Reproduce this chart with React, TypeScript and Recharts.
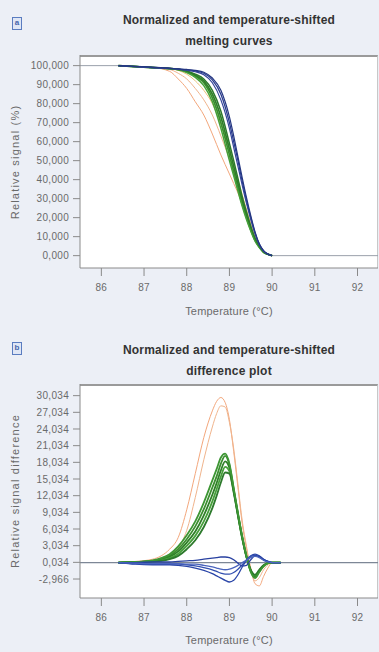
import React from 'react';
import { LineChart, Line, XAxis, YAxis, ReferenceLine } from 'recharts';

// temperature grid for the coloured curves (°C)
const topTemps = [86.4, 86.8, 87.2, 87.6, 87.8, 88.0, 88.2, 88.4, 88.6, 88.8, 89.0, 89.1, 89.2, 89.3, 89.4, 89.5, 89.6, 89.7, 89.8, 89.9, 90.0];

// a) normalized melting curves (%)
const meltOrange1 = [100, 99.5, 99, 97, 93, 88, 81, 74, 64, 53, 43, 38, 33, 27, 21, 15, 9, 4.5, 2, 0.7, 0];
const meltOrange2 = [100, 99.5, 99, 98, 96, 93, 88, 82, 74, 63, 51, 45, 38, 31, 24, 17, 10, 5, 2, 0.7, 0];
const meltOrange3 = [100, 99.5, 99, 98.5, 97.5, 95.5, 92, 87, 80, 69, 56, 48, 40, 32, 24, 16, 10, 5, 2, 0.8, 0];
const meltGreen1 = [100, 99.5, 99, 98.5, 98, 96.8, 94.5, 91, 83, 70, 53, 44, 35.5, 27, 20, 13.5, 8, 4.5, 1.8, 0.7, 0];
const meltGreen2 = [100, 99.5, 99, 98.5, 98, 97, 95, 92, 85, 73, 56, 47, 38, 29, 21.5, 14.5, 8.7, 4.8, 1.9, 0.7, 0];
const meltGreen3 = [100, 99.5, 99, 98.4, 97.8, 96.4, 93.8, 89.5, 81, 67, 50, 42, 34, 26, 19, 13, 7.8, 4.3, 1.8, 0.7, 0];
const meltGreen4 = [100, 99.5, 99, 98.5, 98.1, 97.2, 95.5, 93, 87, 76, 59, 50, 40.5, 31, 23, 15.5, 9.2, 5, 2, 0.8, 0];
const meltBlue1 = [100, 99.5, 99, 98.5, 98.2, 97.8, 97.2, 96, 92.5, 85, 70, 60, 50, 39, 29, 20, 12, 6, 2.5, 0.8, 0];
const meltBlue2 = [100, 99.5, 99, 98.5, 98.1, 97.6, 96.8, 95.2, 91, 82, 67, 57, 47, 37, 27.5, 19, 11.5, 5.8, 2.4, 0.8, 0];
const meltBlue3 = [100, 99.6, 99.2, 98.7, 98.3, 98, 97.5, 96.5, 93.5, 87, 73, 63, 52, 41, 30.5, 21, 12.5, 6.2, 2.6, 0.8, 0];

// grey plateau lines before and after the curves
const plateauTemps = [85.5, 86.4, 88.0, 90.0, 92.48];
const plateauValues = [100, 100, null, 0, 0];

const meltTicks = [0, 10, 20, 30, 40, 50, 60, 70, 80, 90, 100];

// b) difference plot
const diffTemps = [86.4, 86.8, 87.2, 87.4, 87.6, 87.8, 88.0, 88.2, 88.4, 88.6, 88.7, 88.8, 88.9, 89.0, 89.1, 89.2, 89.3, 89.4, 89.5, 89.6, 89.7, 89.8, 89.9, 90.0, 90.2];
const diffOrange1 = [0, 0.2, 0.6, 1.2, 2.4, 4.5, 9.5, 16, 22.5, 27.3, 29, 29.7, 28.8, 25.7, 20, 13.5, 7, 2.5, -1, -3.8, -4.2, -2.5, -1, 0, 0];
const diffOrange2 = [0, 0.1, 0.4, 0.8, 1.5, 2.6, 5.8, 11.7, 18.5, 24.4, 26.8, 28.2, 28, 25.2, 20.5, 14, 7.5, 2.9, -1.2, -3.3, -2.7, -1.3, -0.4, 0, 0];
const diffGreen1 = [0, 0.1, 0.3, 0.6, 1.2, 2.4, 4.2, 6.5, 9.6, 13.5, 15.5, 17.8, 19.2, 17.5, 13.2, 8.8, 4.6, 1.1, -1.6, -2.6, -1.6, -0.6, -0.1, 0, 0];
const diffGreen2 = [0, 0.1, 0.2, 0.5, 1.0, 2.0, 3.6, 5.6, 8.5, 12.2, 14.3, 16.6, 18.2, 17.0, 13.0, 8.6, 4.5, 1.0, -1.5, -2.4, -1.5, -0.6, -0.1, 0, 0];
const diffGreen3 = [0, 0.1, 0.2, 0.4, 0.8, 1.6, 3.0, 4.8, 7.4, 11.0, 13.2, 15.5, 17.2, 16.4, 12.8, 8.5, 4.4, 1.0, -1.4, -2.3, -1.4, -0.5, -0.1, 0, 0];
const diffGreen4 = [0, 0.1, 0.2, 0.3, 0.6, 1.2, 2.4, 4.0, 6.4, 9.8, 12.0, 14.4, 16.2, 16.0, 12.6, 8.4, 4.3, 1.0, -1.3, -2.2, -1.3, -0.5, -0.1, 0, 0];
const diffGreen5 = [0, 0.1, 0.4, 0.8, 1.5, 2.9, 4.9, 7.4, 10.8, 14.8, 16.8, 18.9, 19.6, 17.8, 13.4, 8.9, 4.7, 1.2, -1.7, -2.8, -1.7, -0.7, -0.1, 0, 0];
const diffBlue1 = [0, -0.3, -0.4, -0.4, -0.4, -0.5, -0.7, -1.0, -1.4, -2.0, -2.4, -2.8, -3.2, -3.5, -3.2, -2.2, -0.8, 0.4, 1.2, 1.5, 1.2, 0.6, 0.2, 0, 0];
const diffBlue2 = [0, -0.2, -0.3, -0.3, -0.3, -0.3, -0.4, -0.6, -0.9, -1.3, -1.6, -1.9, -2.1, -2.1, -1.8, -1.2, -0.4, 0.5, 1.1, 1.3, 1.0, 0.5, 0.2, 0, 0];
const diffBlue3 = [0, 0, 0.1, 0.1, 0.1, 0.2, 0.3, 0.4, 0.6, 0.8, 0.9, 1.0, 1.0, 0.9, 0.5, -0.1, -0.6, -0.5, 0.5, 1.2, 1.1, 0.6, 0.2, 0, 0];
const diffBlue4 = [0, -0.1, -0.2, -0.2, -0.2, -0.2, -0.3, -0.3, -0.5, -0.8, -1.0, -1.2, -1.3, -1.2, -0.9, -0.5, 0, 0.4, 0.9, 1.1, 0.9, 0.4, 0.1, 0, 0];

const diffTicks = [-2.966, 0.034, 3.034, 6.034, 9.034, 12.034, 15.034, 18.034, 21.034, 24.034, 27.034, 30.034];
const tempTicks = [86, 87, 88, 89, 90, 91, 92];

const meltSeries = [
  { key: 'o1', values: meltOrange1, color: '#f3a77c', width: 1 },
  { key: 'o2', values: meltOrange2, color: '#f0b48c', width: 1 },
  { key: 'o3', values: meltOrange3, color: '#e9c27a', width: 1 },
  { key: 'g1', values: meltGreen1, color: '#3b8f2f', width: 1.7 },
  { key: 'g2', values: meltGreen2, color: '#2f7f28', width: 1.7 },
  { key: 'g3', values: meltGreen3, color: '#46a03a', width: 1.5 },
  { key: 'g4', values: meltGreen4, color: '#2d7a2c', width: 1.5 },
  { key: 'b1', values: meltBlue1, color: '#2a3c8f', width: 1.3 },
  { key: 'b2', values: meltBlue2, color: '#33459a', width: 1.2 },
  { key: 'b3', values: meltBlue3, color: '#243681', width: 1.2 },
];

const diffSeries = [
  { key: 'o1', values: diffOrange1, color: '#f3a77c', width: 1 },
  { key: 'o2', values: diffOrange2, color: '#f0b48c', width: 1 },
  { key: 'g1', values: diffGreen1, color: '#3b8f2f', width: 1.8 },
  { key: 'g2', values: diffGreen2, color: '#2f7f28', width: 1.8 },
  { key: 'g3', values: diffGreen3, color: '#46a03a', width: 1.8 },
  { key: 'g4', values: diffGreen4, color: '#2d7a2c', width: 1.8 },
  { key: 'g5', values: diffGreen5, color: '#3d9634', width: 1.8 },
  { key: 'b1', values: diffBlue1, color: '#2a45a8', width: 1.3 },
  { key: 'b2', values: diffBlue2, color: '#3350b0', width: 1.3 },
  { key: 'b3', values: diffBlue3, color: '#2840a0', width: 1.3 },
  { key: 'b4', values: diffBlue4, color: '#4a64bd', width: 1.3 },
];

const meltRows = topTemps.map((t, i) => {
  const row: Record<string, number> = { t };
  meltSeries.forEach((s) => (row[s.key] = s.values[i]));
  return row;
});
const plateauRows = plateauTemps.map((t, i) => ({ t, v: plateauValues[i] }));
const diffRows = diffTemps.map((t, i) => {
  const row: Record<string, number> = { t };
  diffSeries.forEach((s) => (row[s.key] = s.values[i]));
  return row;
});

const FONT = '"Liberation Sans", Arial, sans-serif';
const fmt = (v: number) => v.toFixed(3).replace('.', ',');
const tickStyle = { fontSize: 10, fill: '#6a6a6a', fontFamily: FONT, letterSpacing: 0.3 };
const axisLine = { stroke: '#8a8a8a' };

const Title = ({ top, lines }: { top: number; lines: string[] }) => (
  <div
    style={{
      position: 'absolute', left: 80, width: 298, top, textAlign: 'center',
      fontFamily: FONT, fontWeight: 'bold', fontSize: 12, lineHeight: '21px', color: '#333', letterSpacing: 0.2,
    }}
  >
    {lines.map((l) => <div key={l}>{l}</div>)}
  </div>
);

const PanelTag = ({ top, letter }: { top: number; letter: string }) => (
  <div
    style={{
      position: 'absolute', left: 12, top, width: 10, height: 13, boxSizing: 'border-box',
      border: '1.5px solid #5a7cc0', background: '#dfe6f5', color: '#4565ab',
      fontFamily: FONT, fontSize: 8, lineHeight: '10px', textAlign: 'center', fontWeight: 'bold',
    }}
  >
    {letter}
  </div>
);

const YTitle = ({ centerY, text }: { centerY: number; text: string }) => (
  <div
    style={{
      position: 'absolute', left: 15, top: centerY, transform: 'translate(-50%, -50%) rotate(-90deg)',
      whiteSpace: 'nowrap', fontFamily: FONT, fontSize: 11, color: '#6a6a6a', letterSpacing: 1.2,
    }}
  >
    {text}
  </div>
);

const XTitle = ({ top }: { top: number }) => (
  <div
    style={{
      position: 'absolute', left: 80, width: 298, top, textAlign: 'center',
      fontFamily: FONT, fontSize: 11, color: '#6a6a6a', letterSpacing: 0.2,
    }}
  >
    Temperature (°C)
  </div>
);

const Frame = ({ top, height }: { top: number; height: number }) => (
  <div
    style={{
      position: 'absolute', left: 80, top, width: 298, height, boxSizing: 'border-box',
      background: '#fff', borderTop: '2px solid #9a9a9a', borderRight: '1px solid #c8c8c8',
    }}
  />
);

export default function App() {
  return (
    <div style={{ position: 'absolute', left: 0, top: 0, width: 379, height: 652, background: '#eceff6', overflow: 'hidden' }}>
      <PanelTag top={17} letter="a" />
      <Title top={10} lines={['Normalized and temperature-shifted', 'melting curves']} />
      <Frame top={55} height={213} />
      <YTitle centerY={162} text="Relative signal (%)" />
      <div style={{ position: 'absolute', left: 0, top: 0 }}>
        <LineChart width={379} height={330} data={meltRows} margin={{ top: 55, right: 1, bottom: 22, left: 0 }}>
          <XAxis
            dataKey="t" type="number" domain={[85.5, 92.48]} ticks={tempTicks} allowDataOverflow
            height={40} tickSize={8} tickMargin={8} tick={tickStyle} axisLine={axisLine} tickLine={axisLine}
          />
          <YAxis
            type="number" domain={[-6.5, 105.6]} ticks={meltTicks} tickFormatter={fmt} allowDataOverflow
            width={80} tickSize={7} tickMargin={4} tick={tickStyle} axisLine={axisLine} tickLine={axisLine}
          />
          <Line data={plateauRows} dataKey="v" stroke="#9aa0ab" strokeWidth={1} dot={false} isAnimationActive={false} />
          {meltSeries.map((s) => (
            <Line key={s.key} type="monotone" dataKey={s.key} stroke={s.color} strokeWidth={s.width} dot={false} isAnimationActive={false} />
          ))}
        </LineChart>
      </div>
      <XTitle top={305} />

      <PanelTag top={342} letter="b" />
      <Title top={340} lines={['Normalized and temperature-shifted', 'difference plot']} />
      <Frame top={384} height={214} />
      <YTitle centerY={491} text="Relative signal difference" />
      <div style={{ position: 'absolute', left: 0, top: 330 }}>
        <LineChart width={379} height={322} data={diffRows} margin={{ top: 54, right: 1, bottom: 14, left: 0 }}>
          <XAxis
            dataKey="t" type="number" domain={[85.5, 92.48]} ticks={tempTicks} allowDataOverflow
            height={40} tickSize={8} tickMargin={8} tick={tickStyle} axisLine={axisLine} tickLine={axisLine}
          />
          <YAxis
            type="number" domain={[-6.38, 32.13]} ticks={diffTicks} tickFormatter={fmt} allowDataOverflow
            width={80} tickSize={7} tickMargin={4} tick={tickStyle} axisLine={axisLine} tickLine={axisLine}
          />
          <ReferenceLine y={0} stroke="#7d8796" strokeWidth={1.2} />
          {diffSeries.map((s) => (
            <Line key={s.key} type="monotone" dataKey={s.key} stroke={s.color} strokeWidth={s.width} dot={false} isAnimationActive={false} />
          ))}
        </LineChart>
      </div>
      <XTitle top={634} />
    </div>
  );
}
